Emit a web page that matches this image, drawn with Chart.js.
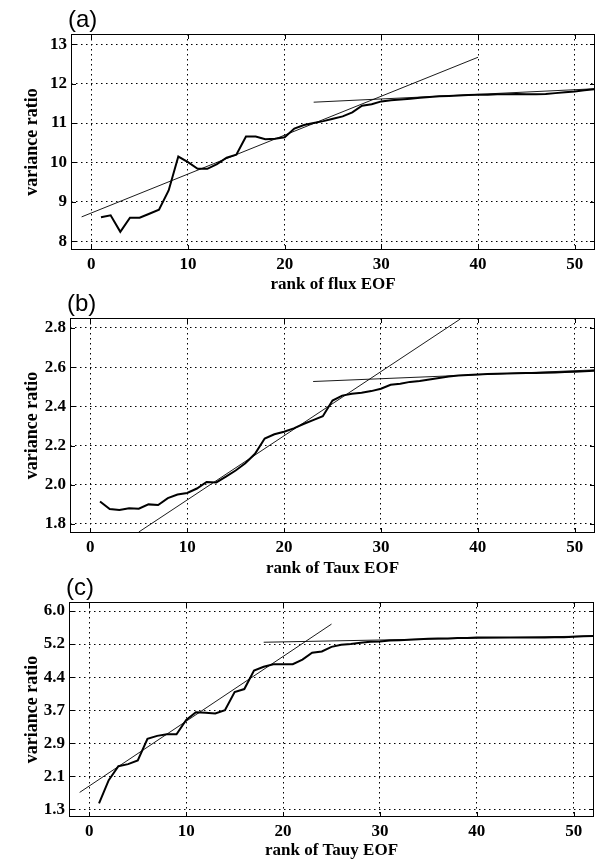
<!doctype html>
<html>
  <head>
    <title>Variance ratio vs EOF rank</title>
    <script src="https://cdn.jsdelivr.net/npm/chart.js"></script>
    <style>
      body {
        margin: 0;
        background: #fff;
        overflow: hidden;
      }
      .wrap {
        position: relative;
        width: 600px;
        height: 861px;
      }
      canvas {
        position: absolute;
        left: 0;
      }
    </style>
  </head>
  <body>
    <div class="wrap">
      <canvas id="panelA" width="600" height="295" style="top:0px"></canvas>
      <canvas id="panelB" width="600" height="295" style="top:284px"></canvas>
      <canvas id="panelC" width="600" height="293" style="top:568px"></canvas>
    </div>

    <script>
      // EOF rank (x) shared by the three panels
      const ranks = [
        1, 2, 3, 4, 5, 6, 7, 8, 9, 10, 11, 12, 13, 14, 15, 16, 17, 18, 19, 20,
        21, 22, 23, 24, 25, 26, 27, 28, 29, 30, 31, 32, 33, 34, 35, 36, 37, 38,
        39, 40, 41, 42, 43, 44, 45, 46, 47, 48, 49, 50, 51, 52,
      ];
      const xTicks = [0, 10, 20, 30, 40, 50];

      // (a) flux
      const fluxRatio = [
        8.61, 8.66, 8.24, 8.6, 8.6, 8.7, 8.8, 9.29, 10.15, 10.01, 9.84, 9.84,
        9.96, 10.12, 10.2, 10.66, 10.66, 10.59, 10.6, 10.64, 10.86, 10.95, 11.0,
        11.05, 11.11, 11.17, 11.27, 11.44, 11.48, 11.55, 11.58, 11.6, 11.62,
        11.64, 11.66, 11.68, 11.69, 11.7, 11.71, 11.72, 11.72, 11.73, 11.73,
        11.74, 11.73, 11.73, 11.74, 11.76, 11.78, 11.8, 11.83, 11.86,
      ];
      const fluxFitSteep = [[-1, 8.62], [40, 12.67]];
      const fluxFitFlat = [[23, 11.53], [52, 11.87]];
      const fluxTicks = [8, 9, 10, 11, 12, 13];
      const fluxLabels = ['8', '9', '10', '11', '12', '13'];

      // (b) Taux
      const tauxRatio = [
        1.915, 1.876, 1.871, 1.88, 1.878, 1.9, 1.897, 1.932, 1.95, 1.958, 1.981,
        2.014, 2.012, 2.042, 2.073, 2.11, 2.158, 2.236, 2.258, 2.271, 2.288,
        2.31, 2.33, 2.35, 2.43, 2.455, 2.465, 2.47, 2.478, 2.49, 2.51, 2.515,
        2.525, 2.53, 2.537, 2.545, 2.553, 2.557, 2.56, 2.563, 2.565, 2.566,
        2.568, 2.569, 2.57, 2.571, 2.572, 2.573, 2.575, 2.577, 2.579, 2.582,
      ];
      const tauxFitSteep = [[5, 1.759], [38.2, 2.846]];
      const tauxFitFlat = [[23, 2.527], [52, 2.586]];
      const tauxTicks = [1.8, 2.0, 2.2, 2.4, 2.6, 2.8];
      const tauxLabels = ['1.8', '2.0', '2.2', '2.4', '2.6', '2.8'];

      // (c) Tauy
      const tauyRatio = [
        1.44, 1.99, 2.32, 2.37, 2.46, 2.97, 3.04, 3.08, 3.08, 3.42, 3.6, 3.59,
        3.57, 3.65, 4.08, 4.15, 4.59, 4.68, 4.74, 4.74, 4.74, 4.85, 5.01, 5.04,
        5.15, 5.2, 5.22, 5.25, 5.27, 5.28, 5.3, 5.31, 5.32, 5.33, 5.34, 5.35,
        5.35, 5.36, 5.36, 5.37, 5.37, 5.37, 5.37, 5.37, 5.37, 5.37, 5.37, 5.38,
        5.38, 5.39, 5.4, 5.41,
      ];
      const tauyFitSteep = [[-1, 1.7], [25, 5.69]];
      const tauyFitFlat = [[18, 5.26], [52, 5.41]];
      const tauyTicks = [1.3, 2.083, 2.867, 3.65, 4.433, 5.217, 6.0];
      const tauyLabels = ['1.3', '2.1', '2.9', '3.7', '4.4', '5.2', '6.0'];

      const serif = { family: '"Liberation Serif", "Times New Roman", serif', size: 17, weight: 'bold' };
      const serifY = { family: '"Liberation Serif", "Times New Roman", serif', size: 18, weight: 'bold' };

      // box + inward tick marks + panel letter, matlab style
      const matlabBox = {
        id: 'matlabBox',
        afterDraw(chart, args, opts) {
          const { ctx, chartArea: a, scales } = chart;
          ctx.save();
          ctx.strokeStyle = '#000';
          ctx.lineWidth = 1;
          ctx.setLineDash([]);
          ctx.strokeRect(a.left + 0.5, a.top + 0.5, a.width - 1, a.height - 1);
          ctx.beginPath();
          scales.x.ticks.forEach((t) => {
            const px = Math.round(scales.x.getPixelForValue(t.value)) + 0.5;
            ctx.moveTo(px, a.bottom); ctx.lineTo(px, a.bottom - 5);
            ctx.moveTo(px, a.top); ctx.lineTo(px, a.top + 5);
          });
          scales.y.ticks.forEach((t) => {
            const py = Math.round(scales.y.getPixelForValue(t.value)) + 0.5;
            ctx.moveTo(a.left, py); ctx.lineTo(a.left + 5, py);
            ctx.moveTo(a.right, py); ctx.lineTo(a.right - 5, py);
          });
          ctx.stroke();
          ctx.fillStyle = '#000';
          ctx.font = '24px "Liberation Sans", Arial, sans-serif';
          ctx.textBaseline = 'alphabetic';
          ctx.fillText(opts.label, a.left - 3, a.top - 7);
          ctx.restore();
        },
      };

      function toPoints(xs, ys) {
        return xs.map((x, i) => ({ x: x, y: ys[i] }));
      }

      function makePanel(id, p) {
        const canvas = document.getElementById(id);
        const H = canvas.height;
        new Chart(canvas.getContext('2d'), {
          type: 'line',
          data: {
            datasets: [
              { data: toPoints(ranks, p.values), borderColor: '#000', borderWidth: 2 },
              { data: p.steep.map((d) => ({ x: d[0], y: d[1] })), borderColor: '#000', borderWidth: 0.9 },
              { data: p.flat.map((d) => ({ x: d[0], y: d[1] })), borderColor: '#000', borderWidth: 0.9 },
            ],
          },
          options: {
            responsive: false,
            devicePixelRatio: 1,
            animation: false,
            events: [],
            layout: { padding: { top: p.top, right: 600 - p.right, left: 0, bottom: 0 } },
            elements: { point: { radius: 0 }, line: { tension: 0 } },
            plugins: {
              legend: { display: false },
              tooltip: { enabled: false },
              matlabBox: { label: p.label },
            },
            scales: {
              x: {
                type: 'linear',
                min: -2.1,
                max: 52.1,
                afterBuildTicks: (s) => { s.ticks = xTicks.map((v) => ({ value: v })); },
                afterFit: (s) => { s.height = H - p.bottom; },
                grid: { color: '#000', lineWidth: 1, drawTicks: false },
                border: { display: false, dash: [1.5, 3.5] },
                ticks: { color: '#000', font: serif, padding: 4, maxRotation: 0, autoSkip: false },
                title: { display: true, text: p.xTitle, color: '#000', font: serif, padding: { top: H - 10.2 - 283, bottom: 0 } },
              },
              y: {
                type: 'linear',
                min: p.ymin,
                max: p.ymax,
                afterBuildTicks: (s) => { s.ticks = p.yTicks.map((v) => ({ value: v })); },
                afterFit: (s) => { s.width = p.left; },
                grid: { color: '#000', lineWidth: 1, drawTicks: false },
                border: { display: false, dash: [1.5, 3.5] },
                ticks: {
                  color: '#000',
                  font: serif,
                  padding: 4,
                  autoSkip: false,
                  callback: (v, i) => p.yLabels[i],
                },
                title: { display: true, text: 'variance ratio', color: '#000', font: serifY, padding: { top: 22, bottom: 0 } },
              },
            },
          },
          plugins: [matlabBox],
        });
      }

      makePanel('panelA', {
        label: '(a)', values: fluxRatio, steep: fluxFitSteep, flat: fluxFitFlat,
        yTicks: fluxTicks, yLabels: fluxLabels, ymin: 7.78, ymax: 13.26,
        xTitle: 'rank of flux EOF', top: 34, bottom: 250, left: 71, right: 595,
      });
      makePanel('panelB', {
        label: '(b)', values: tauxRatio, steep: tauxFitSteep, flat: tauxFitFlat,
        yTicks: tauxTicks, yLabels: tauxLabels, ymin: 1.754, ymax: 2.851,
        xTitle: 'rank of Taux EOF', top: 34, bottom: 249, left: 70, right: 595,
      });
      makePanel('panelC', {
        label: '(c)', values: tauyRatio, steep: tauyFitSteep, flat: tauyFitFlat,
        yTicks: tauyTicks, yLabels: tauyLabels, ymin: 1.117, ymax: 6.214,
        xTitle: 'rank of Tauy EOF', top: 34, bottom: 249, left: 69, right: 594,
      });
    </script>
  </body>
</html>
